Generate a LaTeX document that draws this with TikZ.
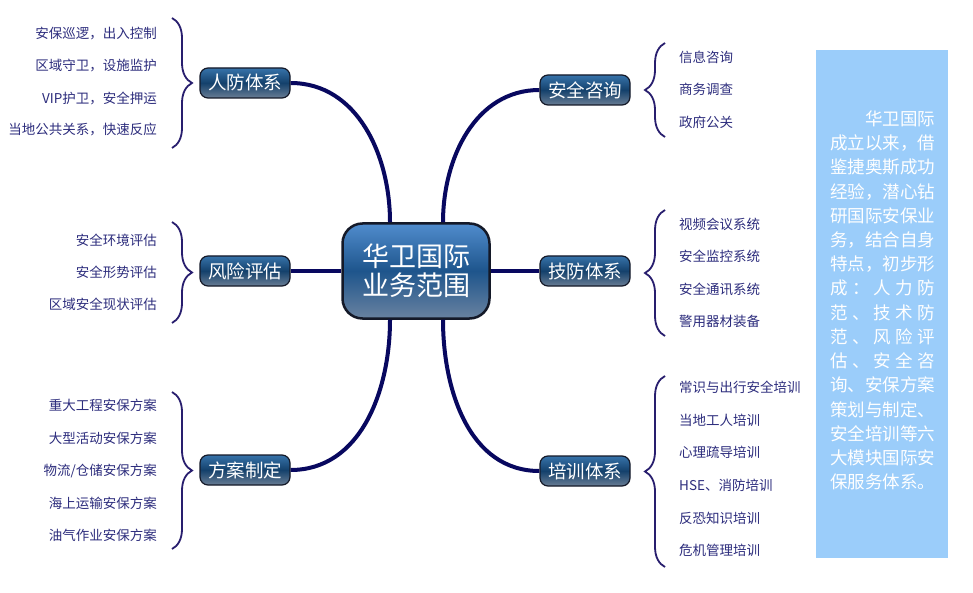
\documentclass[tikz,border=0pt]{standalone}
\usepackage{fontspec}
\setmainfont{Noto Sans CJK SC}
\usetikzlibrary{decorations.pathreplacing}
\definecolor{linkc}{RGB}{8,8,95}
\definecolor{bracec}{RGB}{40,30,110}
\definecolor{leafc}{RGB}{45,45,125}
\definecolor{boxc}{RGB}{155,205,250}
\definecolor{hubline}{RGB}{20,25,40}
\definecolor{hubtop}{RGB}{80,140,205}
\definecolor{hubmid}{RGB}{30,85,140}
\definecolor{hubbot}{RGB}{105,130,160}
\definecolor{toptop}{RGB}{55,115,170}
\definecolor{topmid}{RGB}{20,65,108}
\definecolor{topbot}{RGB}{105,125,148}
\begin{document}
\begin{tikzpicture}[x=1pt, y=-1pt,
    hub/.style={rounded corners=20pt, minimum width=147pt, minimum height=95pt, draw=hubline, line width=2.5pt,
      top color=hubtop, bottom color=hubbot, middle color=hubmid, text=white, align=center, inner sep=0pt,
      font={\fontsize{27}{34}\selectfont}},
    topic/.style={rounded corners=8pt, minimum width=90pt, minimum height=30pt, draw=hubline, line width=1.2pt,
      top color=toptop, bottom color=topbot, middle color=topmid, text=white, inner sep=0pt,
      font={\fontsize{18.5}{20}\selectfont}},
    leaf/.style={text=leafc, inner sep=0pt, font={\fontsize{13.5}{16}\selectfont}},
    link/.style={draw=linkc, line width=4pt},
    curly/.style={draw=bracec, line width=1.8pt, decorate, decoration={brace, amplitude=20pt}},
    note/.style={text=white, inner sep=0pt, anchor=west, font={\fontsize{17.5}{20}\selectfont}}]
  \path[use as bounding box, fill=white] (0,0) rectangle (973,593);

  % centre and topics
  \node[hub] (hub) at (416,271) {\raisebox{-4pt}{\shortstack{华卫国际\\[1pt]业务范围}}};
  \node[topic] (rf) at (245,83) {人防体系};
  \node[topic] (fx) at (245,271) {风险评估};
  \node[topic] (fa) at (245,470) {方案制定};
  \node[topic] (zx) at (585,90) {安全咨询};
  \node[topic] (jf) at (585,271) {技防体系};
  \node[topic] (px) at (585,471) {培训体系};
  \coordinate (hubNW) at ([xshift=-26pt]hub.north);
  \coordinate (hubNE) at ([xshift=27pt]hub.north);
  \coordinate (hubSW) at ([xshift=-26pt]hub.south);
  \coordinate (hubSE) at ([xshift=27pt]hub.south);

  % links
  \draw[link] (rf.east) to[out=0, in=90] (hubNW);
  \draw[link] (zx.west) to[out=180, in=90] (hubNE);
  \draw[link] (fx.east) -- (hub.west);
  \draw[link] (hub.east) -- (jf.west);
  \draw[link] (hubSW) to[out=-90, in=0] (fa.east);
  \draw[link] (hubSE) to[out=-90, in=180] (px.west);

  % left leaves
  \foreach \t [count=\i] in {安保巡逻，出入控制,区域守卫，设施监护,VIP护卫，安全押运,当地公共关系，快速反应} {
    \node[leaf, anchor=east] (rf\i) at (157, 2+32*\i) {\t};
  }
  \foreach \t [count=\i] in {安全环境评估,安全形势评估,区域安全现状评估} {
    \node[leaf, anchor=east] (fx\i) at (157, 208+32*\i) {\t};
  }
  \foreach \t [count=\i] in {重大工程安保方案,大型活动安保方案,物流/仓储安保方案,海上运输安保方案,油气作业安保方案} {
    \node[leaf, anchor=east] (fa\i) at (157, 373+32.5*\i) {\t};
  }
  % right leaves
  \foreach \t [count=\i] in {信息咨询,商务调查,政府公关} {
    \node[leaf, anchor=west] (zx\i) at (679, 24.5+32.5*\i) {\t};
  }
  \foreach \t [count=\i] in {视频会议系统,安全监控系统,安全通讯系统,警用器材装备} {
    \node[leaf, anchor=west] (jf\i) at (679, 191.5+32.5*\i) {\t};
  }
  \foreach \t [count=\i] in {常识与出行安全培训,当地工人培训,心理疏导培训,HSE、消防培训,反恐知识培训,危机管理培训} {
    \node[leaf, anchor=west] (px\i) at (679, 355+32.6*\i) {\t};
  }

  % braces
  \draw[curly] (172,18) -- (172,148);
  \draw[curly] (172,222) -- (172,323);
  \draw[curly] (172,392) -- (172,549);
  \draw[curly] (665,137) -- (665,43);
  \draw[curly] (665,336) -- (665,210);
  \draw[curly] (665,567) -- (665,376);

  % note box
  \fill[boxc] (816,50) rectangle (948,558);
  \foreach \l [count=\n] in {{\hfill 华卫国际},{成立以来，借},{鉴捷奥斯成功},{经验，潜心钻},{研国际安保业},
      {务，结合自身},{特点，初步形},{成\hfill：\hfill 人\hfill 力\hfill 防},{范\hfill 、\hfill 技\hfill 术\hfill 防},
      {范\hfill 、\hfill 风\hfill 险\hfill 评},{估\hfill 、\hfill 安\hfill 全\hfill 咨},{询、安保方案},{策划与制定、},
      {安全培训等六},{大模块国际安},{保服务体系。\hfill}} {
    \node[note] (note\n) at (830, 119+24.2*\n-24.2) {\makebox[105pt][s]{\l}};
  }
\end{tikzpicture}
\end{document}
